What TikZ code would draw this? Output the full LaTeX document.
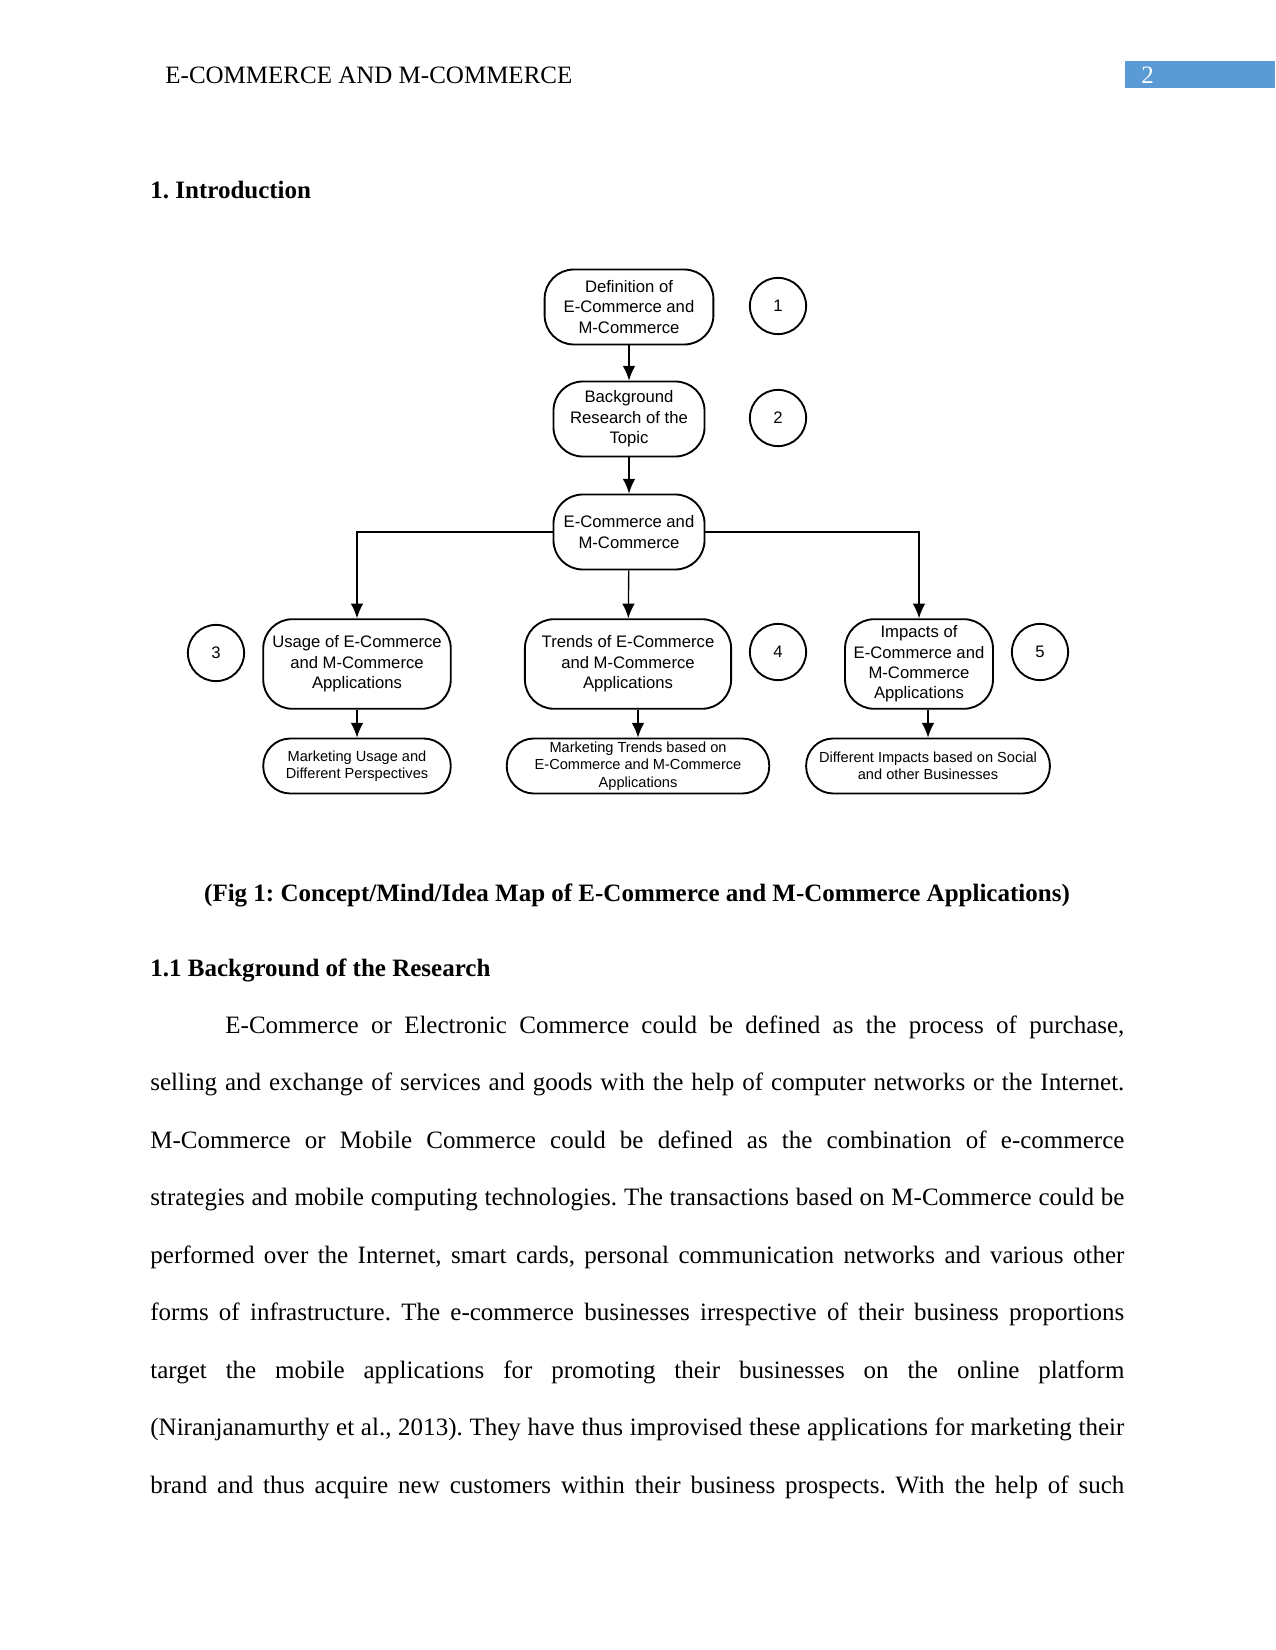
\documentclass[tikz,border=0pt]{standalone}
\usepackage{fontspec}
\setmainfont{Liberation Serif}
\newfontfamily\mapfont{Liberation Sans}
\usepackage{xcolor}
\usetikzlibrary{arrows.meta}
\definecolor{headblue}{HTML}{5B9BD5}
\tikzset{stage/.style={draw, line width=0.9pt, rounded corners=14pt, align=center, inner sep=1pt, font=\mapfont\fontsize{8}{9.8}\selectfont}}
\tikzset{leaf/.style={draw, line width=0.9pt, rounded corners=13pt, align=center, inner sep=1pt, minimum height=26.4pt, font=\mapfont\fontsize{7}{8.4}\selectfont}}
\tikzset{tag/.style={draw, circle, line width=0.9pt, minimum size=27pt, inner sep=0pt, font=\mapfont\fontsize{8}{9.8}\selectfont}}
\tikzset{link/.style={line width=0.65pt, -{Latex[length=7pt,width=6pt]}}}
\tikzset{txt/.style={anchor=base west, inner sep=0pt, font=\fontsize{12}{14}\selectfont}}
\newcommand{\pline}[3]{\node[txt] (#1) at (150,#2) {\makebox[467.5pt][s]{#3}};}
\frenchspacing

\begin{document}
\begin{tikzpicture}[x=0.48pt, y=-0.48pt]
\path[use as bounding box, fill=white] (0,0) rectangle (1275,1650);
\fill[headblue] (1125,61) rectangle (1275,88);
\node[txt] (head) at (165,84) {E-COMMERCE AND M-COMMERCE};
\node[txt, text=white] (pageno) at (1141,84) {2};
\node[txt, font=\bfseries\fontsize{12}{14}\selectfont] (intro) at (150,199) {1. Introduction};

\node[stage, minimum width=81pt, minimum height=36pt] (def) at (629,307) {Definition of\\E-Commerce and\\M-Commerce};
\node[stage, minimum width=72.5pt, minimum height=36pt] (back) at (629,419) {Background\\Research of the\\Topic};
\node[stage, minimum width=72.5pt, minimum height=36pt] (ecm) at (629,532) {E-Commerce and\\M-Commerce};
\node[stage, minimum width=90pt, minimum height=43pt] (usage) at (357,664) {Usage of E-Commerce\\and M-Commerce\\Applications};
\node[stage, minimum width=99pt, minimum height=43pt] (trend) at (628,664) {Trends of E-Commerce\\and M-Commerce\\Applications};
\node[stage, minimum width=71pt, minimum height=43pt] (impact) at (919,664) {Impacts of\\E-Commerce and\\M-Commerce\\Applications};
\node[leaf, minimum width=90pt] (mkusage) at (357,766) {Marketing Usage and\\Different Perspectives};
\node[leaf, minimum width=126pt] (mktrend) at (638,766) {Marketing Trends based on\\E-Commerce and M-Commerce\\Applications};
\node[leaf, minimum width=117pt] (diffimp) at (928,766) {Different Impacts based on Social\\and other Businesses};
\node[tag] (n1) at (778,306) {1};
\node[tag] (n2) at (778,418) {2};
\node[tag] (n3) at (216,653) {3};
\node[tag] (n4) at (778,652) {4};
\node[tag] (n5) at (1040,652) {5};

\draw[link] (def) -- (back);
\draw[link] (back) -- (ecm);
\draw[link] (ecm) -- (trend);
\draw[link] (ecm.west) -| (usage.north);
\draw[link] (ecm.east) -| (impact.north);
\draw[link] (usage) -- (mkusage);
\draw[link] (mktrend.north |- trend.south) -- (mktrend.north);
\draw[link] (diffimp.north |- impact.south) -- (diffimp.north);

\node[txt, anchor=base, font=\bfseries\fontsize{12}{14}\selectfont] (caption) at (637,901) {(Fig 1: Concept/Mind/Idea Map of E-Commerce and M-Commerce Applications)};
\node[txt, font=\bfseries\fontsize{12}{14}\selectfont] (sec) at (150,976) {1.1 Background of the Research};

\node[txt] (l1) at (225,1033) {\makebox[431.5pt][s]{E-Commerce or Electronic Commerce could be defined as the process of purchase,}};
\pline{l2}{1090.5}{selling and exchange of services and goods with the help of computer networks or the Internet.}
\pline{l3}{1148}{M-Commerce or Mobile Commerce could be defined as the combination of e-commerce}
\pline{l4}{1205.5}{strategies and mobile computing technologies. The transactions based on M-Commerce could be}
\pline{l5}{1263}{performed over the Internet, smart cards, personal communication networks and various other}
\pline{l6}{1320.5}{forms of infrastructure. The e-commerce businesses irrespective of their business proportions}
\pline{l7}{1378}{target the mobile applications for promoting their businesses on the online platform}
\pline{l8}{1435.5}{(Niranjanamurthy et al., 2013). They have thus improvised these applications for marketing their}
\pline{l9}{1493}{brand and thus acquire new customers within their business prospects. With the help of such}
\end{tikzpicture}
\end{document}
